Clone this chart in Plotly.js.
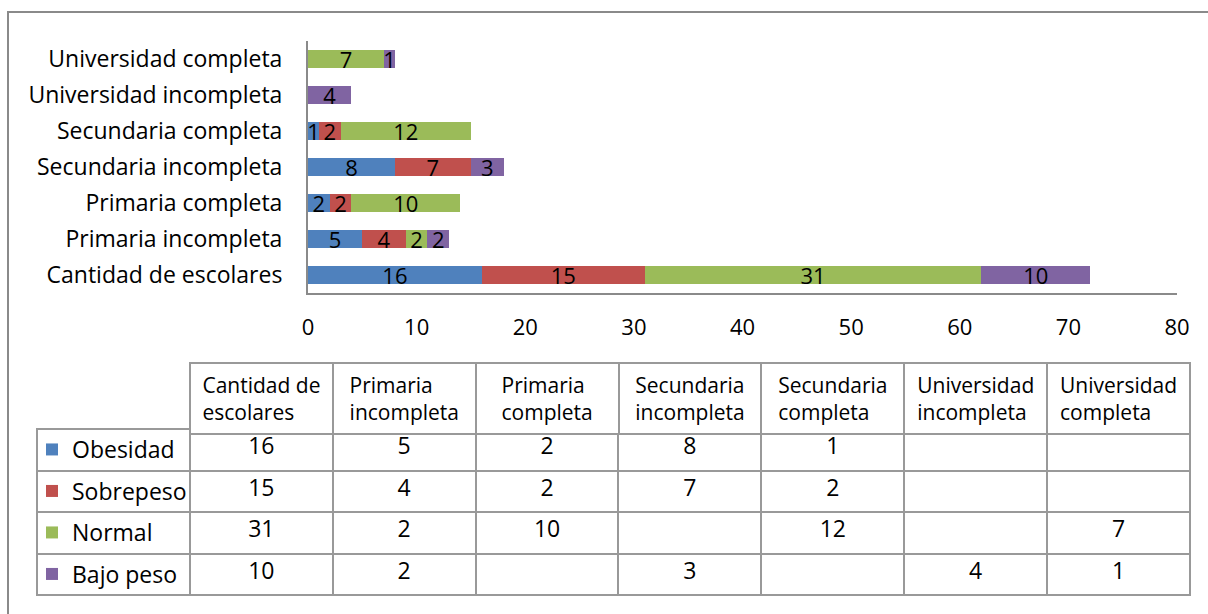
<!DOCTYPE html>
<html>
<head>
<meta charset="utf-8">
<script src="https://cdn.plot.ly/plotly-3.0.1.min.js"></script>
<style>
  html, body { margin: 0; padding: 0; background: #ffffff; }
  #wrap { position: relative; width: 1208px; height: 614px; overflow: hidden; }
  #frame { position: absolute; left: 7px; top: 11px; width: 1300px; height: 700px;
           border-left: 2px solid #8a8a8a; border-top: 2px solid #8a8a8a; box-sizing: border-box; pointer-events: none; }
  #chart { position: absolute; left: 0; top: 0; width: 1208px; height: 614px; }
</style>
</head>
<body>
<div id="wrap">
  <div id="frame"></div>
  <div id="chart"></div>
</div>
<script>
// ---- data ----
const categories = ["Cantidad de escolares", "Primaria incompleta", "Primaria completa",
                    "Secundaria incompleta", "Secundaria completa", "Universidad incompleta",
                    "Universidad completa"];
const headerLabels = ["Cantidad de<br>escolares", "Primaria<br>incompleta", "Primaria<br>completa",
                      "Secundaria<br>incompleta", "Secundaria<br>completa", "Universidad<br>incompleta",
                      "Universidad<br>completa"];
const seriesNames = ["Obesidad", "Sobrepeso", "Normal", "Bajo peso"];
const obesidad  = [16, 5, 2, 8, 1, null, null];
const sobrepeso = [15, 4, 2, 7, 2, null, null];
const normal    = [31, 2, 10, null, 12, null, 7];
const bajoPeso  = [10, 2, null, 3, null, 4, 1];
const xTicks = [0, 10, 20, 30, 40, 50, 60, 70, 80];

// ---- style ----
const colors = ["#4F81BD", "#C0504D", "#9BBB59", "#8064A2"];
const FONT = "'Open Sans', 'Noto Sans', sans-serif";
const FS = 23;
const W = 1208, H = 614;
const px = v => v / W;
const py = v => 1 - v / H;
const gridColor = "#999999";

const seriesValues = [obesidad, sobrepeso, normal, bajoPeso];

const barTraces = seriesNames.map((name, i) => ({
  type: "bar",
  orientation: "h",
  name: name,
  legendgroup: "g" + i,
  y: categories,
  x: seriesValues[i],
  marker: { color: colors[i], line: { width: 0 } },
  texttemplate: "%{x}",
  textposition: "inside",
  insidetextanchor: "middle",
  textangle: 0,
  constraintext: "none",
  textfont: { family: FONT, size: 22, color: "#000000" },
  hoverinfo: "x+y+name",
  cliponaxis: false
}));

const fmt = v => (v === null || v === undefined) ? "" : String(v);

const headerTable = {
  type: "table",
  domain: { x: [px(190), px(1190)], y: [0, py(363)] },
  columnwidth: categories.map(() => 1),
  header: {
    values: headerLabels,
    align: "center",
    height: 65,
    font: { family: FONT, size: 21, color: "#000000" },
    line: { color: gridColor, width: 2 },
    fill: { color: "#ffffff" }
  },
  cells: { values: [] },
  hoverinfo: "skip"
};

const bodyColumns = [seriesNames.map(() => "")].concat(
  categories.map((c, j) => seriesValues.map(s => fmt(s[j])))
);

const bodyTable = {
  type: "table",
  domain: { x: [px(37), px(1190)], y: [0, py(413)] },
  columnwidth: [153].concat(categories.map(() => 143)),
  header: {
    values: [],
    height: 0,
    line: { color: "rgba(0,0,0,0)", width: 0 },
    fill: { color: "rgba(0,0,0,0)" }
  },
  cells: {
    values: bodyColumns,
    align: "center",
    height: 41.5,
    font: { family: FONT, size: FS, color: "#000000" },
    line: { color: gridColor, width: 2 },
    fill: { color: "#ffffff" }
  },
  hoverinfo: "skip"
};

const layout = {
  width: W, height: H,
  margin: { l: 0, r: 0, t: 0, b: 0 },
  paper_bgcolor: "rgba(0,0,0,0)",
  plot_bgcolor: "rgba(0,0,0,0)",
  barmode: "stack",
  bargap: 0.5,
  font: { family: FONT, size: FS, color: "#000000" },
  xaxis: {
    domain: [px(308), px(1177)],
    anchor: "y",
    range: [0, 80],
    tickvals: xTicks,
    ticktext: xTicks.map(String),
    showgrid: false, zeroline: false,
    showline: true, linecolor: "#8a8a8a", linewidth: 2,
    ticks: "",
    ticklabelstandoff: 14,
    tickfont: { family: FONT, size: 22, color: "#000000" },
    fixedrange: true
  },
  yaxis: {
    domain: [py(293), py(41)],
    anchor: "x",
    type: "category",
    categoryorder: "array",
    categoryarray: categories,
    showgrid: false, zeroline: false,
    showline: true, linecolor: "#8a8a8a", linewidth: 2,
    ticks: "",
    ticklabelstandoff: 19,
    tickfont: { family: FONT, size: FS, color: "#000000" },
    fixedrange: true
  },
  showlegend: true,
  legend: {
    x: px(32), xanchor: "left",
    y: py(428), yanchor: "top",
    traceorder: "grouped",
    tracegroupgap: 8.6,
    font: { family: FONT, size: FS, color: "#000000" },
    bgcolor: "rgba(0,0,0,0)",
    borderwidth: 0
  }
};

Plotly.newPlot("chart", [bodyTable, headerTable].concat(barTraces), layout,
  { displayModeBar: false, staticPlot: true });
</script>
</body>
</html>
